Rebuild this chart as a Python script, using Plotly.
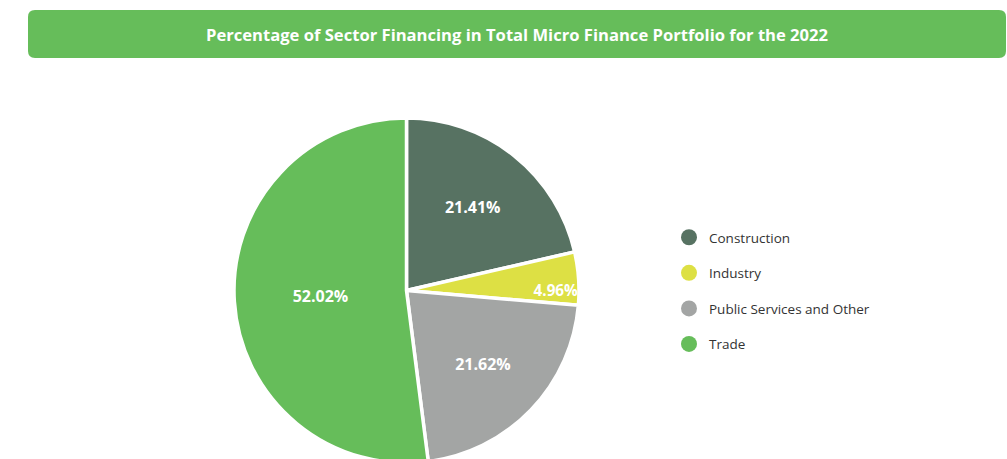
import plotly.graph_objects as go

categories = ["Construction", "Industry", "Public Services and Other", "Trade"]
shares = [21.41, 4.96, 21.62, 52.02]
colors = ["#577262", "#DDE044", "#A3A5A4", "#66BD5A"]
title_text = "Percentage of Sector Financing in Total Micro Finance Portfolio for the 2022"

W, H = 1007, 465
FONT = "'Open Sans', Lato, sans-serif"


def px_x(v):
    return v / W


def px_y(v):
    return 1 - v / H


def rounded_rect(x0, y0, x1, y1, r):
    pts = [
        f"M {px_x(x0 + r)} {px_y(y0)}",
        f"L {px_x(x1 - r)} {px_y(y0)}",
        f"Q {px_x(x1)} {px_y(y0)} {px_x(x1)} {px_y(y0 + r)}",
        f"L {px_x(x1)} {px_y(y1 - r)}",
        f"Q {px_x(x1)} {px_y(y1)} {px_x(x1 - r)} {px_y(y1)}",
        f"L {px_x(x0 + r)} {px_y(y1)}",
        f"Q {px_x(x0)} {px_y(y1)} {px_x(x0)} {px_y(y1 - r)}",
        f"L {px_x(x0)} {px_y(y0 + r)}",
        f"Q {px_x(x0)} {px_y(y0)} {px_x(x0 + r)} {px_y(y0)}",
        "Z",
    ]
    return " ".join(pts)


fig = go.Figure()
fig.add_trace(go.Pie(
    labels=categories,
    values=shares,
    sort=False,
    direction="clockwise",
    rotation=0,
    marker=dict(colors=colors, line=dict(color="white", width=3.5)),
    texttemplate="%{value:.2f}%",
    textposition="inside",
    insidetextorientation="horizontal",
    textfont=dict(family=FONT, size=16, color="white", weight="bold"),
    showlegend=False,
    hoverinfo="label+value",
    domain=dict(x=[px_x(206.5), px_x(606.5)], y=[px_y(463), px_y(118)]),
))

for i, (cat, col) in enumerate(zip(categories, colors)):
    fig.add_trace(go.Scatter(
        x=[None], y=[None], mode="markers", name=cat,
        legendgroup=f"g{i}",
        marker=dict(symbol="circle", size=16, color=col),
        showlegend=True,
    ))

fig.update_layout(
    width=W, height=H,
    margin=dict(l=0, r=0, t=0, b=0),
    paper_bgcolor="white", plot_bgcolor="white",
    xaxis=dict(visible=False), yaxis=dict(visible=False),
    font=dict(family=FONT, size=13, color="#333333"),
    legend=dict(
        x=px_x(669), y=px_y(222), xanchor="left", yanchor="top",
        tracegroupgap=15, font=dict(size=13.5, color="#333333"),
        itemsizing="trace",
    ),
    shapes=[dict(
        type="path", xref="paper", yref="paper",
        path=rounded_rect(28, 10, 1006, 58, 7),
        fillcolor="#66BD5A", line=dict(width=0), layer="below",
    )],
    annotations=[dict(
        text=title_text, xref="paper", yref="paper",
        x=px_x(517), y=px_y(34), xanchor="center", yanchor="middle",
        showarrow=False,
        font=dict(family=FONT, size=16.6, color="white", weight="bold"),
    )],
)

fig.write_html(
    "out.html",
    config={"displayModeBar": False},
    post_script="document.body.style.margin='0';document.body.style.overflow='hidden';document.documentElement.style.overflow='hidden';",
)
